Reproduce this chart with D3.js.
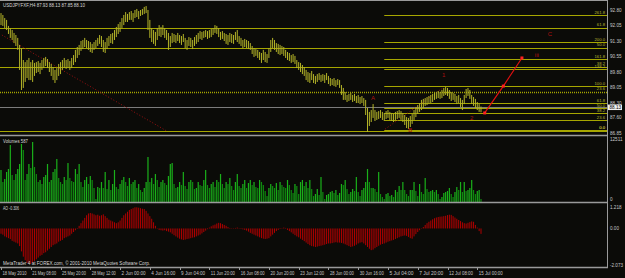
<!DOCTYPE html>
<html>
<head>
<meta charset="utf-8">
<script src="https://cdn.jsdelivr.net/npm/d3@7"></script>
<style>
  body { margin: 0; background: #000; }
  svg { display: block; }
  text { font-family: "Liberation Sans", Arial, sans-serif; }
</style>
</head>
<body>
<div id="chart"></div>
<script>
const width = 625;
const height = 278;

// H4 bars, 18 May 2010 -> 15 Jul 2010
const highs = [
  92.65, 92.56, 92.41, 92.32, 92.03, 91.93, 91.83, 91.69, 91.59, 91.45, 91.11, 90.96, 90.38, 90.28, 90.38, 90.48,
  90.28, 90.38, 90.24, 90.28, 90.33, 90.24, 90.38, 90.48, 90.53, 90.43, 90.28, 90.19, 90.04, 89.90, 89.99, 90.19,
  90.28, 90.38, 90.48, 90.38, 90.43, 90.33, 90.48, 90.62, 90.87, 91.01, 91.11, 91.30, 91.35, 91.45, 91.35, 91.30,
  91.25, 91.16, 91.25, 91.35, 91.45, 91.59, 91.54, 91.35, 91.25, 91.45, 91.54, 91.64, 91.69, 91.83, 91.98, 92.12,
  92.22, 92.41, 92.56, 92.70, 92.61, 92.70, 92.75, 92.65, 92.80, 92.85, 92.75, 92.80, 92.85, 92.95, 92.99, 92.80,
  92.32, 91.93, 91.83, 91.74, 91.93, 92.07, 91.98, 92.07, 91.93, 91.83, 91.69, 91.54, 91.69, 91.64, 91.59, 91.69,
  91.59, 91.54, 91.64, 91.45, 91.35, 91.49, 91.45, 91.35, 91.49, 91.59, 91.69, 91.78, 91.74, 91.78, 91.83, 91.78,
  91.83, 91.88, 91.93, 92.07, 92.03, 91.93, 91.74, 91.78, 91.69, 91.64, 91.59, 91.69, 91.64, 91.59, 91.74, 91.83,
  91.54, 91.45, 91.35, 91.40, 91.35, 91.30, 91.20, 91.06, 90.96, 90.91, 90.87, 90.77, 90.72, 90.87, 90.77, 90.67,
  90.96, 91.35, 91.45, 91.35, 91.20, 91.16, 91.11, 91.06, 91.01, 90.87, 90.77, 90.72, 90.62, 90.67, 90.58, 90.38,
  90.28, 90.24, 90.14, 90.04, 89.90, 89.80, 89.75, 89.85, 89.70, 89.61, 89.70, 89.75, 89.66, 89.70, 89.66, 89.75,
  89.61, 89.51, 89.46, 89.51, 89.41, 89.46, 89.41, 89.17, 89.03, 88.83, 88.69, 88.74, 88.79, 88.69, 88.74, 88.64,
  88.69, 88.59, 88.64, 88.54, 88.45, 88.06, 87.87, 87.96, 88.25, 87.96, 87.87, 87.91, 87.96, 87.87, 87.82, 87.91,
  87.96, 87.87, 87.82, 87.77, 87.87, 87.91, 87.96, 87.91, 87.82, 87.72, 87.62, 87.58, 87.67, 87.77, 87.96, 88.11,
  88.20, 88.30, 88.45, 88.50, 88.54, 88.59, 88.64, 88.69, 88.74, 88.79, 88.83, 88.88, 88.83, 88.93, 89.03, 89.08,
  89.03, 88.93, 88.83, 88.79, 88.74, 88.64, 88.69, 88.54, 88.45, 88.69, 88.98, 89.03, 88.93, 88.69, 88.59, 88.50,
  88.35, 88.25, 88.13
];
const lows = [
  92.07, 92.03, 91.93, 91.83, 91.64, 91.45, 91.35, 91.20, 91.06, 90.87, 89.90, 88.93, 89.03, 89.32, 89.51, 89.41,
  89.41, 89.32, 89.61, 89.75, 89.80, 89.70, 89.90, 89.99, 90.09, 89.99, 89.80, 89.61, 89.41, 89.27, 89.41, 89.61,
  89.70, 89.90, 89.99, 89.95, 89.99, 89.90, 89.99, 90.14, 90.28, 90.48, 90.62, 90.82, 90.91, 91.01, 90.96, 90.87,
  90.77, 90.72, 90.87, 90.96, 91.06, 91.16, 91.01, 90.77, 90.72, 90.91, 91.06, 91.20, 91.16, 91.35, 91.49, 91.64,
  91.74, 91.93, 92.07, 92.22, 92.22, 92.32, 92.32, 92.22, 92.41, 92.46, 92.36, 92.51, 92.56, 92.61, 92.65, 91.83,
  91.45, 91.25, 91.16, 91.06, 91.35, 91.54, 91.49, 91.59, 91.45, 91.35, 90.87, 91.01, 91.20, 91.25, 91.20, 91.30,
  91.20, 91.11, 91.25, 90.96, 90.87, 91.06, 91.01, 90.91, 91.06, 91.16, 91.25, 91.40, 91.35, 91.45, 91.49, 91.40,
  91.45, 91.49, 91.59, 91.69, 91.64, 91.49, 91.35, 91.40, 91.30, 91.16, 91.11, 91.25, 91.20, 91.16, 91.35, 91.25,
  91.16, 91.06, 90.96, 91.01, 90.96, 90.91, 90.87, 90.67, 90.53, 90.58, 90.48, 90.38, 90.24, 90.38, 90.28, 90.24,
  90.48, 90.77, 90.96, 90.87, 90.77, 90.67, 90.62, 90.67, 90.58, 90.48, 90.38, 90.33, 90.24, 90.28, 90.19, 89.99,
  89.90, 89.80, 89.70, 89.61, 89.41, 89.32, 89.27, 89.41, 89.27, 89.22, 89.32, 89.41, 89.32, 89.37, 89.27, 89.41,
  89.22, 89.12, 89.17, 89.12, 89.08, 89.17, 89.03, 88.69, 88.45, 88.45, 88.35, 88.40, 88.45, 88.35, 88.40, 88.30,
  88.30, 88.25, 88.30, 88.16, 87.72, 86.90, 87.19, 87.38, 87.58, 87.43, 87.48, 87.53, 87.58, 87.48, 87.43, 87.53,
  87.58, 87.48, 87.43, 87.38, 87.48, 87.53, 87.58, 87.48, 87.38, 87.24, 87.09, 87.04, 87.14, 87.29, 87.48, 87.62,
  87.77, 87.87, 87.96, 88.06, 88.16, 88.20, 88.25, 88.30, 88.35, 88.45, 88.50, 88.54, 88.50, 88.54, 88.64, 88.69,
  88.64, 88.50, 88.40, 88.45, 88.35, 88.25, 88.30, 88.11, 87.96, 88.25, 88.54, 88.64, 88.50, 88.25, 88.16, 88.06,
  87.96, 87.87, 87.85
];
const volumes = [
  6260, 3910, 4500, 5870, 6450, 11140, 5280, 4300, 5470, 6450, 7430, 11340, 10170, 4300, 5470, 7430,
  6650, 11730, 6840, 5470, 3910, 4300, 3520, 4890, 5280, 7430, 3910, 4300, 5870, 6450, 8410, 4690,
  3910, 3520, 4890, 4300, 7620, 4690, 4100, 3910, 6450, 5470, 7430, 3910, 2930, 4300, 4890, 3520,
  5080, 4300, 2740, 590, 2930, 2740, 3910, 2740, 5870, 2540, 4300, 2350, 3520, 6260, 2930, 2540,
  3520, 4300, 4890, 3910, 3130, 4690, 3520, 3910, 4300, 2740, 3520, 2350, 1960, 2740, 3910, 8800,
  3910, 4690, 3520, 5470, 4300, 2930, 3910, 4300, 3710, 3320, 5080, 7430, 7620, 3520, 2740, 2930,
  3910, 3320, 5870, 3130, 2540, 3910, 4300, 3910, 2540, 2740, 3910, 3320, 3130, 4300, 6260, 3320,
  2740, 3520, 3910, 2930, 4300, 3910, 5470, 3520, 2740, 3910, 3520, 4690, 3130, 2350, 3910, 5470,
  3130, 2740, 3520, 4300, 2740, 3710, 4300, 3320, 3910, 2930, 2740, 4300, 3910, 3320, 2150, 1170,
  2740, 3520, 3130, 2740, 3710, 2350, 3910, 3320, 2930, 2740, 4300, 3320, 2350, 1760, 3520, 3130,
  1560, 3910, 4300, 3130, 3910, 2740, 4300, 2540, 1170, 1560, 2540, 1370, 4890, 1960, 590, 1370,
  1560, 1960, 2150, 1760, 2350, 1370, 1760, 3520, 3320, 4300, 2540, 1560, 1960, 2540, 2150, 4890,
  1960, 1170, 2350, 2740, 3910, 6450, 3910, 2740, 2740, 2540, 1960, 5870, 1560, 980, 590, 1560,
  1760, 1170, 1370, 980, 2350, 1960, 3130, 2350, 3910, 2350, 1560, 1170, 2350, 2350, 3910, 2150,
  1170, 3520, 1960, 1560, 4690, 2540, 1960, 2150, 2350, 1960, 2350, 1560, 590, 980, 1760, 1960,
  2150, 2740, 1560, 980, 1960, 2930, 2350, 3910, 1960, 3910, 2150, 2350, 2740, 4300, 2350, 1560,
  2150, 2350, 587
];
const aoValues = [
  -0.30, -0.35, -0.45, -0.50, -0.55, -0.60, -0.70, -0.75, -0.80, -0.85, -1.00, -1.30, -1.60, -1.80, -1.95, -2.00,
  -2.00, -1.95, -1.85, -1.75, -1.65, -1.55, -1.50, -1.40, -1.35, -1.25, -1.15, -1.05, -0.95, -0.90, -0.85, -0.75,
  -0.70, -0.65, -0.55, -0.50, -0.45, -0.40, -0.30, -0.20, -0.10, -0.03, 0.15, 0.30, 0.45, 0.60, 0.75, 0.85,
  0.88, 0.85, 0.80, 0.75, 0.78, 0.72, 0.75, 0.80, 0.70, 0.60, 0.50, 0.45, 0.40, 0.35, 0.30, 0.35,
  0.45, 0.60, 0.75, 0.85, 0.95, 1.05, 1.10, 1.15, 1.20, 1.20, 1.18, 1.15, 1.12, 1.10, 1.00, 0.85,
  0.70, 0.55, 0.35, 0.15, 0.02, -0.08, -0.10, -0.12, -0.10, -0.15, -0.18, -0.22, -0.30, -0.38, -0.45, -0.52,
  -0.58, -0.62, -0.65, -0.63, -0.60, -0.58, -0.55, -0.52, -0.50, -0.45, -0.40, -0.35, -0.28, -0.20, -0.12, -0.04,
  0.05, 0.12, 0.18, 0.22, 0.28, 0.32, 0.30, 0.25, 0.20, 0.15, 0.08, 0.03, 0.02, -0.02, 0.03, 0.05,
  0.02, -0.03, -0.05, -0.08, -0.12, -0.18, -0.25, -0.30, -0.35, -0.40, -0.45, -0.50, -0.55, -0.58, -0.60, -0.58,
  -0.55, -0.45, -0.35, -0.25, -0.15, -0.08, -0.03, 0.02, 0.05, 0.03, -0.08, -0.15, -0.22, -0.30, -0.38, -0.45,
  -0.50, -0.58, -0.65, -0.72, -0.80, -0.88, -0.95, -1.00, -1.02, -1.05, -1.03, -1.00, -0.98, -0.95, -0.92, -0.88,
  -0.85, -0.85, -0.83, -0.80, -0.78, -0.80, -0.80, -0.82, -0.85, -0.90, -0.95, -1.00, -1.05, -1.02, -0.98, -0.92,
  -0.85, -0.80, -0.78, -0.85, -0.95, -1.05, -1.15, -1.23, -1.20, -1.12, -1.05, -0.98, -0.92, -0.88, -0.85, -0.80,
  -0.75, -0.72, -0.68, -0.65, -0.60, -0.55, -0.50, -0.45, -0.42, -0.40, -0.42, -0.48, -0.55, -0.58, -0.45, -0.32,
  -0.20, -0.10, -0.02, 0.08, 0.20, 0.30, 0.38, 0.45, 0.52, 0.58, 0.62, 0.65, 0.67, 0.68, 0.70, 0.72,
  0.76, 0.78, 0.77, 0.70, 0.62, 0.55, 0.48, 0.42, 0.35, 0.30, 0.28, 0.32, 0.36, 0.40, 0.38, 0.20,
  0.05, -0.15, -0.306
];

// time axis: a label every 16 bars
const dateTickIdx = [0, 16, 32, 48, 64, 80, 96, 112, 128, 144, 160, 176, 192, 208, 224, 240, 256];
const dateLabels = ["18 May 2010", "21 May 08:00", "25 May 20:00", "28 May 12:00", "2 Jun 00:00",
  "4 Jun 16:00", "9 Jun 04:00", "11 Jun 20:00", "16 Jun 08:00", "20 Jun 20:00", "23 Jun 12:00",
  "28 Jun 00:00", "30 Jun 16:00", "5 Jul 04:00", "7 Jul 20:00", "12 Jul 08:00", "15 Jul 00:00"];

const priceTicks = [92.80, 92.05, 91.30, 90.55, 89.80, 89.05, 88.30, 87.60, 86.85];
const bidPrice = 88.13;

// fibo retracement (full width) and fibo expansion (right part)
const retLabels = ["61.8", "50.0", "38.2", "23.6", "0.0"];
const retPrices = [91.93, 90.96, 90.04, 88.83, 86.95];
const expLabels = ["261.8", "200.0", "161.8", "138.2", "100.0", "61.8", "50.0", "38.2", "23.6", "0.0"];
const expPrices = [92.56, 91.25, 90.43, 89.95, 89.12, 88.30, 88.06, 87.82, 87.48, 87.00];
const expStartIdx = 206;

// red wave projection (bar index, price)
const waveIdx = [260, 270, 280];
const wavePrice = [87.82, 89.12, 90.48];
// dotted red trend lines
const trend1 = [[0.5, 91.59], [89, 86.95]];
const trend2 = [[206.5, 87.04], [237.5, 89.03]];
// wave labels
const waveLabels = [
  {t: "A", i: 200, p: 88.45}, {t: "B", i: 220, p: 86.88}, {t: "1", i: 238, p: 89.56},
  {t: "2", i: 253, p: 87.48}, {t: "iii", i: 288, p: 90.55}, {t: "C", i: 295, p: 91.55}
];

const mainPane = {top: 0, bottom: 135};
const volPane = {top: 137, bottom: 202};
const aoPane = {top: 204, bottom: 267};
const plotRight = 607;

const svg = d3.select("#chart")
  .append("svg")
  .attr("width", width)
  .attr("height", height)
  .style("background-color", "#0b0b08");

const x = d3.scaleLinear().domain([0, 258]).range([1, 481]);
const y = d3.scaleLinear().domain([86.85, 92.80]).range([133, 10]);
const yVol = d3.scaleLinear().domain([0, 12511]).range([202, 138]);
const yAO = d3.scaleLinear().domain([-2.073, 1.218]).range([265, 207]);

svg.append("clipPath").attr("id", "clipMain")
  .append("rect").attr("x", 0).attr("y", mainPane.top).attr("width", plotRight).attr("height", mainPane.bottom - mainPane.top);

const main = svg.append("g").attr("clip-path", "url(#clipMain)");

// fibo retracement lines
main.selectAll("line.ret")
  .data(retPrices)
  .enter().append("line")
  .attr("x1", 0).attr("x2", plotRight)
  .attr("y1", d => Math.round(y(d)) + 0.5).attr("y2", d => Math.round(y(d)) + 0.5)
  .attr("stroke", "#a6a600")
  .attr("stroke-width", (d, i) => i === 3 ? 1.6 : 1)
  .attr("stroke-dasharray", (d, i) => i === 3 ? "1,1" : null);

// fibo expansion lines
main.selectAll("line.exp")
  .data(expPrices)
  .enter().append("line")
  .attr("x1", x(expStartIdx)).attr("x2", plotRight)
  .attr("y1", d => Math.round(y(d)) + 0.5).attr("y2", d => Math.round(y(d)) + 0.5)
  .attr("stroke", "#a6a600")
  .attr("stroke-width", 1);

// level labels (retracement ones sit a little higher)
const fiboText = retLabels.map((t, i) => ({t, p: retPrices[i], dy: -2.4}))
  .concat(expLabels.map((t, i) => ({t, p: expPrices[i], dy: -0.6})));
main.selectAll("text.fibo")
  .data(fiboText)
  .enter().append("text")
  .attr("x", plotRight - 2)
  .attr("y", d => y(d.p) + d.dy)
  .attr("text-anchor", "end")
  .attr("font-size", "4.2px")
  .attr("fill", "#b8b830")
  .text(d => d.t);

// bid line
main.append("line")
  .attr("x1", 0).attr("x2", plotRight)
  .attr("y1", Math.round(y(bidPrice)) + 0.5).attr("y2", Math.round(y(bidPrice)) + 0.5)
  .attr("stroke", "#7c7c7c").attr("stroke-width", 1);

// dotted trend lines
[trend1, trend2].forEach(t => {
  main.append("line")
    .attr("x1", x(t[0][0])).attr("y1", y(t[0][1]))
    .attr("x2", x(t[1][0])).attr("y2", y(t[1][1]))
    .attr("stroke", "#9a1010").attr("stroke-width", 1)
    .attr("stroke-dasharray", "1,2");
});

// price bars (high-low)
main.selectAll("line.bar")
  .data(highs)
  .enter().append("line")
  .attr("x1", (d, i) => x(i)).attr("x2", (d, i) => x(i))
  .attr("y1", d => y(d))
  .attr("y2", (d, i) => y(lows[i]))
  .attr("stroke", "#b4b428")
  .attr("stroke-width", 1);

// red projection
const wave = waveIdx.map((d, i) => [x(d), y(wavePrice[i])]);
main.append("path")
  .attr("d", d3.line()(wave))
  .attr("fill", "none").attr("stroke", "#e01010").attr("stroke-width", 1.2);
main.selectAll("rect.wave")
  .data(wave)
  .enter().append("rect")
  .attr("x", d => d[0] - 1.5).attr("y", d => d[1] - 1.5)
  .attr("width", 3).attr("height", 3)
  .attr("fill", "#ff2020");

main.selectAll("text.wave")
  .data(waveLabels)
  .enter().append("text")
  .attr("x", d => x(d.i)).attr("y", d => y(d.p))
  .attr("text-anchor", "middle")
  .attr("font-size", "6px")
  .attr("fill", "#b01010")
  .text(d => d.t);

// volumes
svg.append("g").selectAll("rect")
  .data(volumes)
  .enter().append("rect")
  .attr("x", (d, i) => x(i) - 0.6)
  .attr("width", 1.2)
  .attr("y", d => yVol(d))
  .attr("height", d => yVol(0) - yVol(d))
  .attr("fill", (d, i) => i > 0 && d < volumes[i - 1] ? "#0f8a0f" : "#1ab01a");

// AO histogram
svg.append("g").selectAll("rect")
  .data(aoValues)
  .enter().append("rect")
  .attr("x", (d, i) => x(i) - 0.5)
  .attr("width", 1)
  .attr("y", d => Math.min(yAO(d), yAO(0)))
  .attr("height", d => Math.abs(yAO(d) - yAO(0)))
  .attr("fill", "#b00000");

// pane frames
const grey = "#9a9a9a";
svg.append("line").attr("x1", 0).attr("x2", plotRight).attr("y1", 0.5).attr("y2", 0.5).attr("stroke", grey);
[mainPane.bottom + 0.5, volPane.bottom + 0.5, aoPane.bottom + 0.5].forEach(yy => {
  svg.append("line").attr("x1", 0).attr("x2", plotRight + 1).attr("y1", yy).attr("y2", yy)
    .attr("stroke", grey).attr("stroke-width", 1.5);
});
svg.append("line").attr("x1", plotRight + 0.5).attr("x2", plotRight + 0.5)
  .attr("y1", 0).attr("y2", aoPane.bottom + 1).attr("stroke", grey);

// right price axis
const axisText = "#c8c8c8";
svg.selectAll("text.price")
  .data(priceTicks)
  .enter().append("text")
  .attr("x", plotRight + 3).attr("y", d => y(d) + 1.5)
  .attr("font-size", "4.6px").attr("fill", axisText)
  .text(d => d.toFixed(2));

svg.append("rect")
  .attr("x", plotRight + 1).attr("y", y(bidPrice) - 2)
  .attr("width", 14).attr("height", 5.5).attr("fill", "#f0f0f0");
svg.append("text")
  .attr("x", plotRight + 2.5).attr("y", y(bidPrice) + 2.6)
  .attr("font-size", "4.6px").attr("fill", "#000")
  .text(bidPrice.toFixed(2));

// volume + AO axis labels
const sideLabels = [
  {t: "12511", y: yVol(12511) + 3}, {t: "0", y: yVol(0) - 1},
  {t: "1.218", y: yAO(1.218) + 2}, {t: "0.00", y: yAO(0) + 2}, {t: "-2.073", y: yAO(-2.073) + 2}
];
svg.selectAll("text.side")
  .data(sideLabels)
  .enter().append("text")
  .attr("x", plotRight + 3).attr("y", d => d.y)
  .attr("font-size", "4.6px").attr("fill", axisText)
  .text(d => d.t);

// time axis
svg.selectAll("line.tick")
  .data(dateTickIdx)
  .enter().append("line")
  .attr("x1", d => Math.round(x(d)) + 0.5).attr("x2", d => Math.round(x(d)) + 0.5)
  .attr("y1", aoPane.bottom).attr("y2", aoPane.bottom + 3)
  .attr("stroke", grey);
svg.selectAll("text.date")
  .data(dateTickIdx)
  .enter().append("text")
  .attr("x", d => x(d) + 1.5).attr("y", 275)
  .attr("font-size", "4.6px").attr("fill", axisText)
  .attr("textLength", 24).attr("lengthAdjust", "spacingAndGlyphs")
  .text((d, i) => dateLabels[i]);

// pane captions
const captions = [
  {t: "USDJPYFXF,H4  87.93 88.13 87.85 88.10", y: 7, w: 82},
  {t: "Volumes 587", y: 143, w: 25},
  {t: "AO -0.306", y: 210, w: 16},
  {t: "MetaTrader 4 at FOREX.com, \u00a9 2001-2010 MetaQuotes Software Corp.", y: 265, w: 147}
];
svg.selectAll("text.caption")
  .data(captions)
  .enter().append("text")
  .attr("x", 3).attr("y", d => d.y)
  .attr("font-size", "4.8px").attr("fill", "#d8d8d8")
  .attr("textLength", d => d.w).attr("lengthAdjust", "spacingAndGlyphs")
  .text(d => d.t);
</script>
</body>
</html>
